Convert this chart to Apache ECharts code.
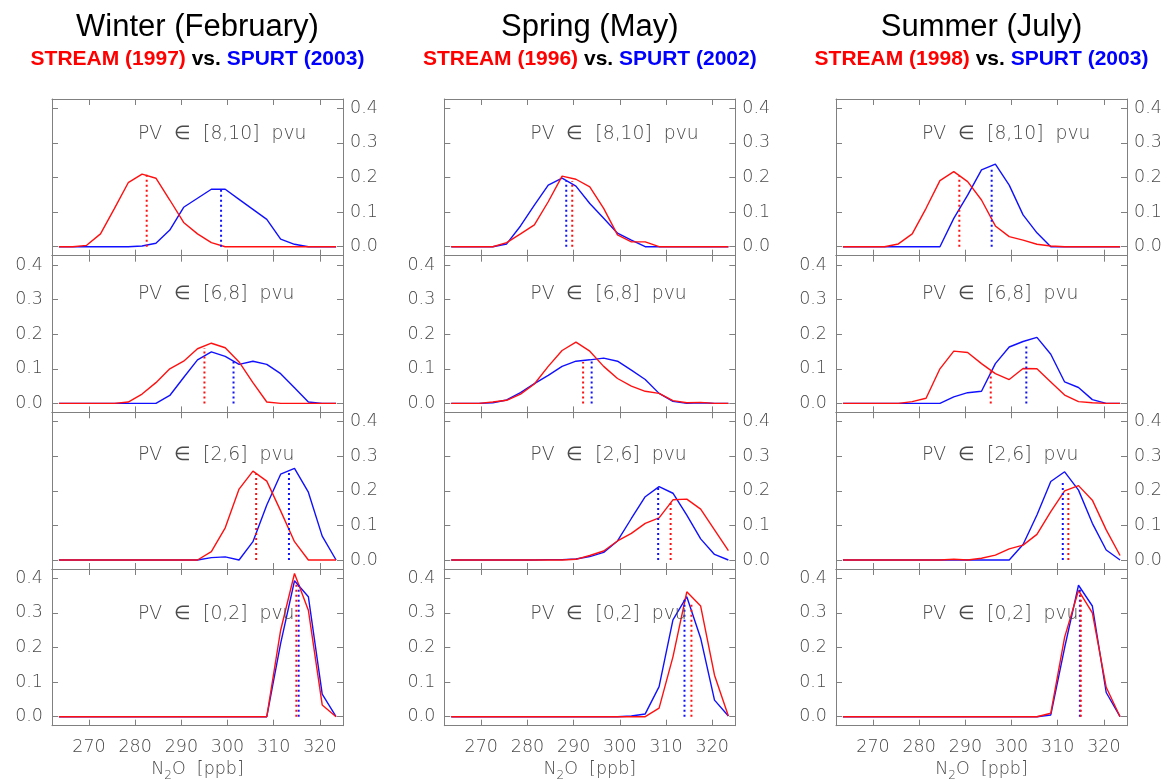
<!DOCTYPE html>
<html>
<head>
<meta charset="utf-8">
<script src="https://cdn.jsdelivr.net/npm/echarts@6/dist/echarts.min.js"></script>
<style>
  html, body { margin: 0; padding: 0; background: #fff; }
  #chart { width: 1167px; height: 780px; }
</style>
</head>
<body>
<div id="chart"></div>
<script>
// N2O bin centres (ppb), 3 ppb bins
const n2oBins = [263.5, 266.5, 269.5, 272.5, 275.5, 278.5, 281.5, 284.5, 287.5, 290.5, 293.5,
                 296.5, 299.5, 302.5, 305.5, 308.5, 311.5, 314.5, 317.5, 320.5, 323.5];
const xTicks = [270, 280, 290, 300, 310, 320];
const yTicks = [0, 0.1, 0.2, 0.3, 0.4];
const pvLabels = ['PV  ∈  [8,10]  pvu', 'PV  ∈  [6,8]  pvu', 'PV  ∈  [2,6]  pvu', 'PV  ∈  [0,2]  pvu'];

// frequency distributions, rows: PV 8-10, 6-8, 2-6, 0-2
const winterStream = [
  [0, 0, 0.004, 0.037, 0.11, 0.185, 0.21, 0.198, 0.135, 0.07, 0.037, 0.012, 0, 0, 0, 0, 0, 0, 0, 0, 0],
  [0, 0, 0, 0, 0, 0.004, 0.027, 0.06, 0.1, 0.122, 0.158, 0.174, 0.161, 0.12, 0.06, 0.004, 0, 0, 0, 0, 0],
  [0, 0, 0, 0, 0, 0, 0, 0, 0, 0, 0, 0.024, 0.093, 0.205, 0.257, 0.228, 0.142, 0.053, 0, 0, 0],
  [0, 0, 0, 0, 0, 0, 0, 0, 0, 0, 0, 0, 0, 0, 0, 0, 0.25, 0.414, 0.308, 0.034, 0]
];
const winterSpurt = [
  [0, 0, 0, 0, 0, 0, 0.002, 0.01, 0.048, 0.114, 0.14, 0.166, 0.166, 0.137, 0.108, 0.079, 0.022, 0.007, 0, 0, 0],
  [0, 0, 0, 0, 0, 0, 0, 0, 0.023, 0.075, 0.126, 0.149, 0.136, 0.113, 0.122, 0.113, 0.086, 0.045, 0.004, 0, 0],
  [0, 0, 0, 0, 0, 0, 0, 0, 0, 0, 0, 0.007, 0.009, 0, 0.053, 0.159, 0.248, 0.265, 0.196, 0.069, 0],
  [0, 0, 0, 0, 0, 0, 0, 0, 0, 0, 0, 0, 0, 0, 0, 0, 0.212, 0.393, 0.347, 0.065, 0]
];
const springStream = [
  [0, 0, 0, 0, 0.012, 0.037, 0.063, 0.13, 0.204, 0.195, 0.173, 0.111, 0.034, 0.014, 0.014, 0, 0, 0, 0, 0, 0],
  [0, 0, 0, 0.004, 0.009, 0.027, 0.056, 0.107, 0.153, 0.177, 0.151, 0.107, 0.072, 0.05, 0.035, 0.029, 0.008, 0.002, 0.003, 0, 0],
  [0, 0, 0, 0, 0, 0, 0, 0, 0, 0.002, 0.013, 0.026, 0.055, 0.077, 0.106, 0.122, 0.174, 0.176, 0.147, 0.087, 0.027],
  [0, 0, 0, 0, 0, 0, 0, 0, 0, 0, 0, 0, 0, 0, 0, 0.025, 0.173, 0.361, 0.32, 0.12, 0.002]
];
const springSpurt = [
  [0, 0, 0, 0, 0.008, 0.06, 0.12, 0.178, 0.198, 0.175, 0.125, 0.082, 0.039, 0.019, 0, 0, 0, 0, 0, 0, 0],
  [0, 0, 0, 0.002, 0.01, 0.031, 0.057, 0.081, 0.107, 0.122, 0.126, 0.131, 0.122, 0.096, 0.069, 0.029, 0.006, 0, 0.002, 0, 0],
  [0, 0, 0, 0, 0, 0, 0, 0.001, 0.001, 0.003, 0.01, 0.022, 0.055, 0.12, 0.183, 0.212, 0.193, 0.13, 0.061, 0.016, 0],
  [0, 0, 0, 0, 0, 0, 0, 0, 0, 0, 0, 0, 0, 0.002, 0.008, 0.087, 0.28, 0.347, 0.227, 0.048, 0.002]
];
const summerStream = [
  [0, 0, 0, 0, 0.008, 0.037, 0.111, 0.191, 0.217, 0.188, 0.135, 0.06, 0.029, 0.019, 0.007, 0.002, 0, 0, 0, 0, 0],
  [0, 0, 0, 0, 0, 0.005, 0.015, 0.1, 0.151, 0.147, 0.115, 0.086, 0.069, 0.101, 0.1, 0.062, 0.024, 0.005, 0.002, 0, 0],
  [0, 0, 0, 0, 0, 0, 0, 0, 0.002, 0, 0.005, 0.014, 0.032, 0.043, 0.074, 0.14, 0.2, 0.215, 0.173, 0.087, 0.013],
  [0, 0, 0, 0, 0, 0, 0, 0, 0, 0, 0, 0, 0, 0, 0, 0.01, 0.23, 0.365, 0.3, 0.085, 0]
];
const summerSpurt = [
  [0, 0, 0, 0, 0, 0, 0, 0, 0.082, 0.149, 0.222, 0.239, 0.178, 0.092, 0.04, 0, 0, 0, 0, 0, 0],
  [0, 0, 0, 0, 0, 0, 0, 0, 0.019, 0.031, 0.035, 0.115, 0.163, 0.179, 0.191, 0.142, 0.062, 0.046, 0.011, 0, 0],
  [0, 0, 0, 0, 0, 0, 0, 0, 0, 0, 0, 0, 0, 0.045, 0.13, 0.227, 0.255, 0.202, 0.106, 0.029, 0],
  [0, 0, 0, 0, 0, 0, 0, 0, 0, 0, 0, 0, 0, 0, 0, 0.005, 0.2, 0.38, 0.32, 0.07, 0]
];

// mean N2O (dotted markers) and the height they reach
const winterStreamMean = [282.5, 295.0, 306.2, 314.9];
const winterStreamMeanH = [0.21, 0.16, 0.25, 0.39];
const winterSpurtMean = [298.6, 301.3, 313.3, 315.4];
const winterSpurtMeanH = [0.166, 0.125, 0.26, 0.385];
const springStreamMean = [289.7, 292.05, 311.0, 315.5];
const springStreamMeanH = [0.19, 0.12, 0.17, 0.33];
const springSpurtMean = [288.4, 293.9, 308.3, 314.0];
const springSpurtMeanH = [0.19, 0.125, 0.21, 0.34];
const summerStreamMean = [288.7, 295.5, 312.3, 315.0];
const summerStreamMeanH = [0.205, 0.10, 0.2, 0.36];
const summerSpurtMean = [295.7, 303.2, 311.1, 314.8];
const summerSpurtMeanH = [0.23, 0.165, 0.23, 0.37];

const columns = [
  { title: 'Winter (February)', streamYear: 1997, spurtYear: 2003,
    stream: winterStream, spurt: winterSpurt,
    streamMean: winterStreamMean, streamMeanH: winterStreamMeanH, spurtMean: winterSpurtMean, spurtMeanH: winterSpurtMeanH },
  { title: 'Spring (May)', streamYear: 1996, spurtYear: 2002,
    stream: springStream, spurt: springSpurt,
    streamMean: springStreamMean, streamMeanH: springStreamMeanH, spurtMean: springSpurtMean, spurtMeanH: springSpurtMeanH },
  { title: 'Summer (July)', streamYear: 1998, spurtYear: 2003,
    stream: summerStream, spurt: summerSpurt,
    streamMean: summerStreamMean, streamMeanH: summerStreamMeanH, spurtMean: summerSpurtMean, spurtMeanH: summerSpurtMeanH }
];

// layout (px)
const colLeft = [52, 444.3, 836];
const gridW = 291;
const rowTop = [99, 255.7, 412.3, 569];
const gridH = 156.7;
const pvOffset = [35, 38, 43, 45];

const RED = '#ff1010', BLUE = '#1010ff', AXIS = '#808080', TXT = '#4a4a4a';
const tickFont = { fontFamily: 'DejaVu Sans', fontWeight: 200, fontSize: 17.5, color: TXT };

const chart = echarts.init(document.getElementById('chart'));
const grids = [], xAxes = [], yAxes = [], series = [], titles = [];

const pair = (xs, ys) => xs.map((x, i) => [x, ys[i]]);

columns.forEach((col, c) => {
  const cx = colLeft[c] + gridW / 2;
  titles.push({
    text: col.title, left: cx, top: 12, textAlign: 'center', padding: 0,
    textStyle: { fontFamily: 'Liberation Sans', fontSize: 31, fontWeight: 'normal', color: '#000' }
  });
  titles.push({
    text: `{r|STREAM (${col.streamYear})} {k|vs.} {b|SPURT (${col.spurtYear})}`,
    left: cx, top: 49, textAlign: 'center', padding: 0,
    textStyle: {
      fontFamily: 'Liberation Sans', fontSize: 21, fontWeight: 'bold',
      rich: {
        r: { color: '#ff0000', fontFamily: 'Liberation Sans', fontSize: 21, fontWeight: 'bold' },
        k: { color: '#000', fontFamily: 'Liberation Sans', fontSize: 21, fontWeight: 'bold' },
        b: { color: '#0000ff', fontFamily: 'Liberation Sans', fontSize: 21, fontWeight: 'bold' }
      }
    }
  });

  for (let r = 0; r < 4; r++) {
    const g = grids.length;
    const labelRight = r % 2 === 0;
    grids.push({ left: colLeft[c], top: rowTop[r], width: gridW, height: gridH, outerBoundsMode: 'none' });

    const xBase = {
      gridIndex: g, type: 'value', min: 262, max: 325,
      axisLine: { show: true, onZero: false, lineStyle: { color: AXIS, width: 1 } },
      axisTick: { show: true, inside: true, length: 6, customValues: xTicks, lineStyle: { color: AXIS } },
      splitLine: { show: false }
    };
    xAxes.push(Object.assign({}, xBase, {
      position: 'bottom',
      axisLabel: Object.assign({ show: r === 3, customValues: xTicks, margin: 13 }, tickFont),
      name: r === 3 ? 'N{sub|2}O  [ppb]' : '',
      nameLocation: 'middle', nameGap: 31,
      nameTextStyle: Object.assign({ lineHeight: 24, rich: {
        sub: { fontFamily: 'DejaVu Sans', fontWeight: 200, fontSize: 12, color: TXT, lineHeight: 12, verticalAlign: 'bottom' }
      } }, tickFont)
    }));
    xAxes.push(Object.assign({}, xBase, { position: 'top', axisLabel: { show: false } }));

    const yBase = {
      gridIndex: g, type: 'value', min: -0.026, max: 0.427,
      axisLine: { show: true, onZero: false, lineStyle: { color: AXIS, width: 1 } },
      axisTick: { show: true, inside: true, length: 6, customValues: yTicks, lineStyle: { color: AXIS } },
      splitLine: { show: false }
    };
    yAxes.push(Object.assign({}, yBase, {
      position: 'left',
      axisLabel: Object.assign({ show: !labelRight, customValues: yTicks, margin: 9, formatter: v => v.toFixed(1) }, tickFont)
    }));
    yAxes.push(Object.assign({}, yBase, {
      position: 'right',
      axisLabel: Object.assign({ show: labelRight, customValues: yTicks, margin: 7, formatter: v => v.toFixed(1) }, tickFont)
    }));

    const common = { xAxisIndex: 2 * g, yAxisIndex: 2 * g, type: 'line', symbol: 'none', silent: true, animation: false };
    series.push(Object.assign({}, common, { data: pair(n2oBins, col.spurt[r]), lineStyle: { color: BLUE, width: 1.4 } }));
    series.push(Object.assign({}, common, { data: pair(n2oBins, col.stream[r]), lineStyle: { color: RED, width: 1.4 } }));
    series.push(Object.assign({}, common, {
      data: [[col.spurtMean[r], 0], [col.spurtMean[r], col.spurtMeanH[r]]],
      lineStyle: { color: BLUE, width: 2, type: [2, 3] }
    }));
    series.push(Object.assign({}, common, {
      data: [[col.streamMean[r], 0], [col.streamMean[r], col.streamMeanH[r]]],
      lineStyle: { color: RED, width: 2, type: [2, 3] }
    }));

    titles.push({
      text: pvLabels[r], left: colLeft[c] + 86, top: rowTop[r] + pvOffset[r] - 11, padding: 0,
      textStyle: { fontFamily: 'DejaVu Sans', fontWeight: 200, fontSize: 18.8, color: TXT, lineHeight: 22 }
    });
  }
});

chart.setOption({
  animation: false,
  title: titles,
  grid: grids,
  xAxis: xAxes,
  yAxis: yAxes,
  series: series
});
</script>
</body>
</html>
